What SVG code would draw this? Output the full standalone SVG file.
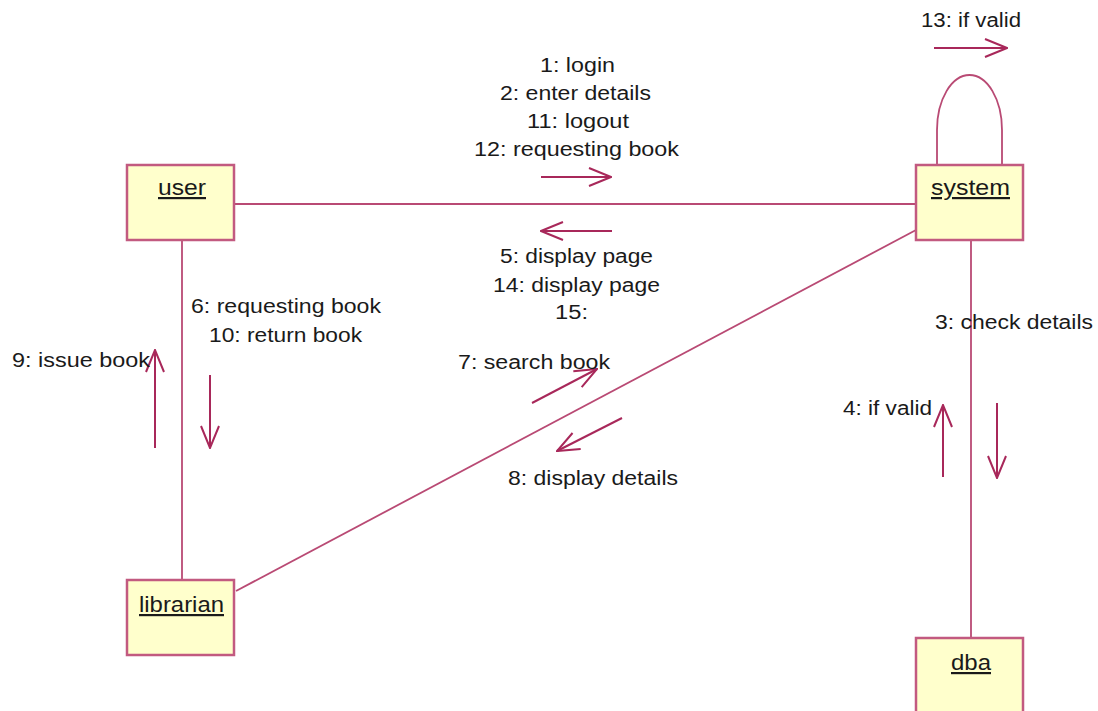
<svg xmlns="http://www.w3.org/2000/svg" width="1098" height="711" viewBox="0 0 1098 711">
<defs>
<style>
.box{fill:#ffffcc;stroke:#c25a80;stroke-width:2.5}
.ln{fill:none;stroke:#b94a74;stroke-width:1.8}
.ar{fill:none;stroke:#a8285a;stroke-width:2}
.t{font-family:"Liberation Sans",Arial,sans-serif;font-size:20px;fill:#1a1a1a}
.n{font-family:"Liberation Sans",Arial,sans-serif;font-size:22px;fill:#1a1a1a;text-decoration:underline}
</style>
<marker id="oa" viewBox="0 0 24 20" refX="23" refY="10" markerWidth="24" markerHeight="20" markerUnits="userSpaceOnUse" orient="auto">
<path d="M1 1 L23 10 L1 19" fill="none" stroke="#a8285a" stroke-width="2"/>
</marker>
</defs>
<rect width="1098" height="711" fill="#ffffff"/>
<g id="connectors">
<line class="ln" x1="234" y1="204" x2="916" y2="204"/>
<line class="ln" x1="182" y1="240" x2="182" y2="580"/>
<line class="ln" x1="971" y1="240" x2="971" y2="638"/>
<line class="ln" x1="236" y1="591" x2="916" y2="230"/>
<path class="ln" d="M937 165 V130 A32.5 55 0 0 1 1002 130 V165"/>
<line class="ar" x1="934" y1="48" x2="1007" y2="48" marker-end="url(#oa)"/>
<line class="ar" x1="541" y1="177" x2="611" y2="177" marker-end="url(#oa)"/>
<line class="ar" x1="612" y1="231" x2="541" y2="231" marker-end="url(#oa)"/>
<line class="ar" x1="210" y1="375" x2="210" y2="448" marker-end="url(#oa)"/>
<line class="ar" x1="155" y1="448" x2="155" y2="350" marker-end="url(#oa)"/>
<line class="ar" x1="997" y1="403" x2="997" y2="478" marker-end="url(#oa)"/>
<line class="ar" x1="943" y1="477" x2="943" y2="405" marker-end="url(#oa)"/>
<line class="ar" x1="532" y1="403" x2="597" y2="369" marker-end="url(#oa)"/>
<line class="ar" x1="622" y1="418" x2="557" y2="451" marker-end="url(#oa)"/>
</g>
<g id="labels">
<text class="t" x="540" y="72" textLength="75" lengthAdjust="spacingAndGlyphs" style="font-size:21px">1: login</text>
<text class="t" x="500" y="100" textLength="151" lengthAdjust="spacingAndGlyphs">2: enter details</text>
<text class="t" x="527" y="128" textLength="102" lengthAdjust="spacingAndGlyphs">11: logout</text>
<text class="t" x="474" y="156" textLength="205" lengthAdjust="spacingAndGlyphs">12: requesting book</text>
<text class="t" x="500" y="263" textLength="153" lengthAdjust="spacingAndGlyphs">5: display page</text>
<text class="t" x="493" y="292" textLength="167" lengthAdjust="spacingAndGlyphs">14: display page</text>
<text class="t" x="555" y="319" textLength="33" lengthAdjust="spacingAndGlyphs">15:</text>
<text class="t" x="191" y="313" textLength="190" lengthAdjust="spacingAndGlyphs">6: requesting book</text>
<text class="t" x="209" y="342" textLength="153" lengthAdjust="spacingAndGlyphs">10: return book</text>
<text class="t" x="12" y="367" textLength="138" lengthAdjust="spacingAndGlyphs">9: issue book</text>
<text class="t" x="458" y="369" textLength="152" lengthAdjust="spacingAndGlyphs">7: search book</text>
<text class="t" x="508" y="485" textLength="170" lengthAdjust="spacingAndGlyphs">8: display details</text>
<text class="t" x="935" y="329" textLength="158" lengthAdjust="spacingAndGlyphs">3: check details</text>
<text class="t" x="843" y="415" textLength="89" lengthAdjust="spacingAndGlyphs">4: if valid</text>
<text class="t" x="921" y="27" textLength="100" lengthAdjust="spacingAndGlyphs">13: if valid</text>
</g>
<g id="user">
<rect class="box" x="127" y="165" width="107" height="75"/>
<text class="n" x="158" y="195" textLength="48" lengthAdjust="spacingAndGlyphs">user</text>
</g>
<g id="system">
<rect class="box" x="916" y="165" width="107" height="75"/>
<text class="n" x="931" y="195" textLength="79" lengthAdjust="spacingAndGlyphs">system</text>
</g>
<g id="librarian">
<rect class="box" x="127" y="580" width="107" height="75"/>
<text class="n" x="139" y="612" textLength="85" lengthAdjust="spacingAndGlyphs">librarian</text>
</g>
<g id="dba">
<rect class="box" x="916" y="638" width="107" height="80"/>
<text class="n" x="951" y="670" textLength="40" lengthAdjust="spacingAndGlyphs">dba</text>
</g>
</svg>
